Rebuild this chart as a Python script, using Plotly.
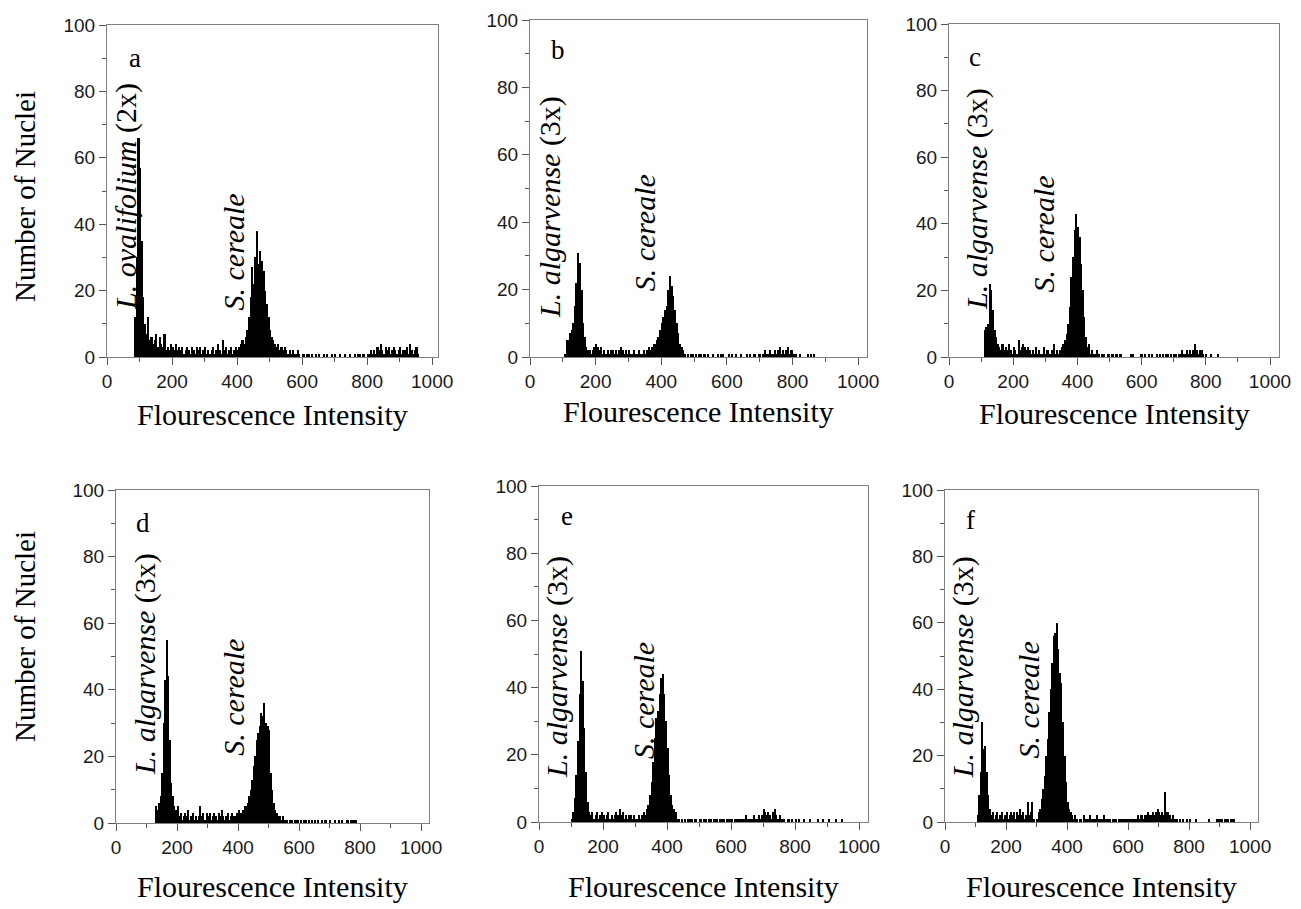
import plotly.graph_objects as go

# Histogram counts.
# Each panel: first bin start and counts in 5-unit bins of fluorescence intensity
BIN = 5

start_a = 80
counts_a = [0, 12, 30, 66, 57, 35, 18, 10, 7, 12, 5, 6, 4, 5, 7, 3, 6, 4, 3, 7,
            2, 3, 2, 4, 3, 2, 4, 2, 3, 2, 3, 1, 2, 3, 2, 1, 3, 2, 1, 3,
            2, 3, 1, 2, 3, 1, 2, 1, 2, 3, 1, 2, 4, 2, 1, 5, 2, 3, 1, 2,
            3, 1, 2, 3, 2, 3, 4, 5, 4, 6, 8, 12, 18, 27, 22, 30, 38, 28, 32, 29,
            26, 20, 16, 12, 8, 6, 5, 4, 3, 4, 2, 3, 2, 3, 2, 1, 2, 1, 2, 1,
            1, 2, 1, 0, 1, 1, 0, 1, 1, 0, 1, 0, 1, 0, 1, 0, 0, 1, 0, 1,
            0, 0, 1, 0, 1, 0, 0, 1, 0, 0, 1, 0, 0, 1, 0, 0, 1, 0, 1, 1,
            0, 1, 1, 0, 1, 1, 2, 1, 2, 1, 3, 2, 4, 2, 1, 3, 2, 3, 1, 2,
            3, 2, 1, 2, 3, 1, 2, 2, 3, 1, 4, 2, 1, 2, 3, 1]

start_b = 105
counts_b = [1, 5, 5, 7, 8, 10, 15, 22, 31, 28, 20, 10, 6, 3, 2, 2, 1, 2, 3, 4,
            3, 2, 3, 1, 2, 1, 2, 1, 2, 2, 1, 2, 1, 2, 3, 2, 1, 2, 1, 2,
            1, 1, 2, 1, 1, 2, 1, 1, 2, 1, 2, 3, 2, 3, 4, 4, 5, 6, 8, 10,
            12, 14, 15, 20, 24, 21, 18, 14, 10, 7, 4, 3, 2, 1, 0, 1, 0, 1, 1, 0,
            1, 0, 1, 1, 0, 1, 0, 1, 0, 0, 1, 0, 0, 1, 0, 1, 1, 0, 0, 0,
            1, 0, 1, 0, 1, 0, 0, 1, 0, 0, 0, 1, 0, 1, 0, 1, 1, 0, 1, 1,
            0, 1, 2, 1, 1, 2, 1, 1, 2, 1, 2, 3, 1, 2, 1, 2, 3, 1, 2, 1,
            1, 1, 0, 1, 0, 0, 0, 0, 1, 0, 1, 0, 1]

start_c = 105
counts_c = [0, 8, 9, 10, 22, 20, 14, 8, 6, 4, 3, 2, 4, 2, 3, 2, 4, 2, 1, 3,
            2, 1, 5, 2, 3, 4, 3, 2, 3, 2, 1, 2, 1, 3, 1, 2, 1, 1, 3, 1,
            2, 1, 1, 2, 4, 1, 2, 1, 2, 3, 4, 5, 7, 10, 15, 24, 30, 38, 43, 39,
            36, 28, 20, 12, 6, 3, 4, 1, 2, 1, 1, 2, 1, 0, 1, 1, 0, 0, 1, 0,
            1, 1, 0, 1, 0, 1, 1, 0, 0, 0, 0, 0, 1, 1, 0, 0, 0, 0, 1, 1,
            0, 1, 0, 1, 0, 1, 0, 0, 1, 0, 1, 0, 1, 0, 1, 1, 0, 1, 0, 1,
            1, 0, 1, 1, 2, 1, 1, 2, 1, 2, 1, 2, 4, 2, 1, 2, 2, 1, 0, 1,
            0, 0, 1, 0, 0, 0, 1]

start_d = 125
counts_d = [0, 5, 4, 6, 8, 15, 30, 43, 55, 44, 25, 12, 8, 5, 4, 5, 2, 3, 1, 2,
            3, 2, 4, 1, 2, 3, 1, 2, 1, 2, 5, 2, 3, 1, 3, 2, 3, 1, 2, 3,
            2, 1, 3, 2, 4, 2, 1, 2, 3, 1, 2, 3, 2, 2, 3, 4, 3, 3, 4, 5,
            5, 6, 8, 10, 13, 17, 20, 25, 27, 29, 33, 32, 36, 30, 29, 28, 15, 10, 6, 4,
            3, 2, 2, 1, 2, 1, 1, 1, 0, 1, 1, 0, 1, 1, 1, 0, 1, 0, 1, 1,
            0, 1, 0, 1, 0, 1, 0, 1, 0, 0, 1, 0, 1, 0, 0, 1, 0, 0, 1, 0,
            0, 1, 0, 1, 0, 0, 1, 1, 0, 1, 1, 1, 1, 0]

start_e = 95
counts_e = [0, 1, 3, 7, 14, 24, 38, 51, 42, 28, 15, 6, 3, 2, 3, 1, 2, 3, 1, 2,
            3, 2, 1, 2, 3, 1, 2, 1, 2, 3, 2, 4, 2, 3, 1, 2, 1, 2, 2, 1,
            2, 1, 1, 2, 1, 2, 3, 2, 4, 5, 8, 12, 18, 25, 31, 33, 38, 43, 44, 38,
            30, 22, 14, 8, 5, 4, 3, 1, 1, 0, 1, 0, 1, 0, 1, 1, 1, 0, 1, 1,
            0, 1, 1, 0, 1, 1, 0, 1, 1, 0, 1, 1, 1, 0, 1, 1, 1, 0, 1, 1,
            1, 1, 0, 1, 1, 1, 1, 1, 1, 1, 2, 1, 1, 1, 1, 2, 1, 1, 2, 1,
            2, 4, 3, 2, 3, 2, 1, 3, 4, 2, 1, 2, 1, 1, 1, 0, 1, 1, 0, 1,
            0, 1, 0, 1, 0, 0, 1, 0, 0, 0, 1, 0, 0, 0, 0, 1, 0, 0, 1, 0,
            0, 0, 1, 0, 0, 0, 1, 0, 0, 0, 1]

start_f = 100
counts_f = [0, 2, 8, 15, 30, 22, 23, 15, 8, 4, 2, 3, 1, 2, 3, 1, 2, 3, 1, 2,
            3, 1, 2, 3, 2, 3, 1, 3, 2, 4, 2, 3, 1, 2, 6, 2, 3, 6, 1, 0,
            1, 3, 4, 7, 10, 14, 20, 25, 33, 40, 48, 56, 57, 60, 52, 45, 42, 30, 20, 12,
            6, 4, 3, 2, 1, 2, 1, 0, 1, 1, 0, 2, 1, 1, 1, 2, 1, 1, 1, 2,
            1, 1, 1, 1, 2, 1, 1, 1, 1, 0, 1, 1, 1, 0, 1, 1, 1, 1, 1, 1,
            1, 1, 1, 1, 1, 1, 2, 1, 2, 2, 1, 2, 2, 3, 2, 2, 3, 2, 3, 4,
            3, 2, 3, 2, 9, 3, 3, 2, 1, 2, 1, 1, 1, 0, 1, 0, 1, 0, 1, 0,
            1, 0, 0, 0, 1, 0, 0, 0, 0, 0, 0, 0, 0, 1, 0, 0, 0, 0, 1, 1,
            1, 1, 0, 1, 1, 1, 0, 1, 1, 1]

panel_letters = ['a', 'b', 'c', 'd', 'e', 'f']
first_labels = ['<i>L. ovalifolium</i> (2x)'] + ['<i>L. algarvense</i> (3x)'] * 5
second_label = '<i>S. cereale</i>'
x_title = 'Flourescence Intensity'
y_title = 'Number of Nuclei'

starts = [start_a, start_b, start_c, start_d, start_e, start_f]
counts = [counts_a, counts_b, counts_c, counts_d, counts_e, counts_f]

# label positions in data units (x center, y bottom)
first_pos = [(56, 13.5), (61, 11), (87, 13.5), (95, 13.8), (56, 12.5), (59, 12.6)]
second_pos = [(390, 13.5), (350, 19), (293, 18.6), (384, 19.5), (325, 18), (272, 18.7)]
letter_pos = [(87, 90), (85, 91), (81, 90), (89, 90), (87, 91), (82, 91)]

# the page body adds an 8 px margin, so the figure is laid out in page pixels minus 8
OFF = 8
W, H = 1301 - OFF, 909 - OFF
# plot frames in page pixels: left, right, top, bottom
boxes = [(107, 438, 25, 357), (530, 867, 20, 357), (949, 1279, 24, 357),
         (116, 429, 490, 823), (539, 868, 486, 822), (945, 1258, 490, 822)]
# x value at the right edge of each frame
xmax = [1018, 1027, 1028, 1026, 1028, 1026]
# vertical centre of the x axis titles (page pixels)
xtitle_y = [414, 411, 413, 886, 886, 886]


def px_x(p):
    return (p - OFF) / W


def px_y(p):
    return 1 - (p - OFF) / H


SERIF = 'Liberation Serif'
SANS = 'Liberation Sans'

fig = go.Figure()
layout = {}
annotations = []

for i in range(6):
    n = i + 1
    xa = 'x' if n == 1 else f'x{n}'
    ya = 'y' if n == 1 else f'y{n}'
    centers = [starts[i] + BIN * k + BIN / 2 for k in range(len(counts[i]))]
    fig.add_trace(go.Bar(
        x=centers, y=counts[i], width=BIN,
        marker=dict(color='black', line=dict(width=0)),
        xaxis=xa, yaxis=ya, showlegend=False
    ))
    l, r, t, b = boxes[i]
    axis_common = dict(
        showline=True, linecolor='#808080', linewidth=1, mirror=True,
        ticks='outside', tickcolor='#555555', ticklen=7, tickwidth=1,
        showgrid=False, zeroline=False, automargin=False,
        tickfont=dict(family=SANS, size=19, color='#1a1a1a'),
    )
    layout['xaxis' if n == 1 else f'xaxis{n}'] = dict(
        axis_common, domain=[px_x(l), px_x(r)], range=[0, xmax[i]],
        tickvals=[0, 200, 400, 600, 800, 1000],
        minor=dict(ticks='outside', tickvals=[100, 300, 500, 700, 900],
                   ticklen=4, tickcolor='#555555'),
        anchor=ya,
    )
    layout['yaxis' if n == 1 else f'yaxis{n}'] = dict(
        axis_common, domain=[px_y(b), px_y(t)], range=[0, 100],
        tickvals=[0, 20, 40, 60, 80, 100],
        minor=dict(ticks='outside', tickvals=[10, 30, 50, 70, 90],
                   ticklen=4, tickcolor='#555555'),
        anchor=xa,
    )
    # panel letter
    annotations.append(dict(
        x=letter_pos[i][0], y=letter_pos[i][1], xref=xa, yref=ya,
        text=panel_letters[i], showarrow=False,
        font=dict(family=SERIF, size=27, color='black'),
        xanchor='center', yanchor='middle'
    ))
    # species labels
    for txt, (px, py) in [(first_labels[i], first_pos[i]), (second_label, second_pos[i])]:
        annotations.append(dict(
            x=px, y=py, xref=xa, yref=ya, text=txt, showarrow=False,
            textangle=-90, font=dict(family=SERIF, size=30, color='black'),
            xanchor='center', yanchor='bottom'
        ))
    # x axis title
    annotations.append(dict(
        x=px_x((l + r) / 2), y=px_y(xtitle_y[i]), xref='paper', yref='paper',
        text=x_title, showarrow=False,
        font=dict(family=SERIF, size=30, color='black'),
        xanchor='center', yanchor='middle'
    ))

# y axis titles, left column only
for yc in [197, 637]:
    annotations.append(dict(
        x=px_x(25), y=px_y(yc), xref='paper', yref='paper',
        text=y_title, showarrow=False, textangle=-90,
        font=dict(family=SERIF, size=29, color='black'),
        xanchor='center', yanchor='middle'
    ))

fig.update_layout(
    **layout,
    annotations=annotations,
    width=W, height=H,
    margin=dict(l=0, r=0, t=0, b=0),
    paper_bgcolor='white', plot_bgcolor='white',
    bargap=0,
)

fig.write_html('out.html')
